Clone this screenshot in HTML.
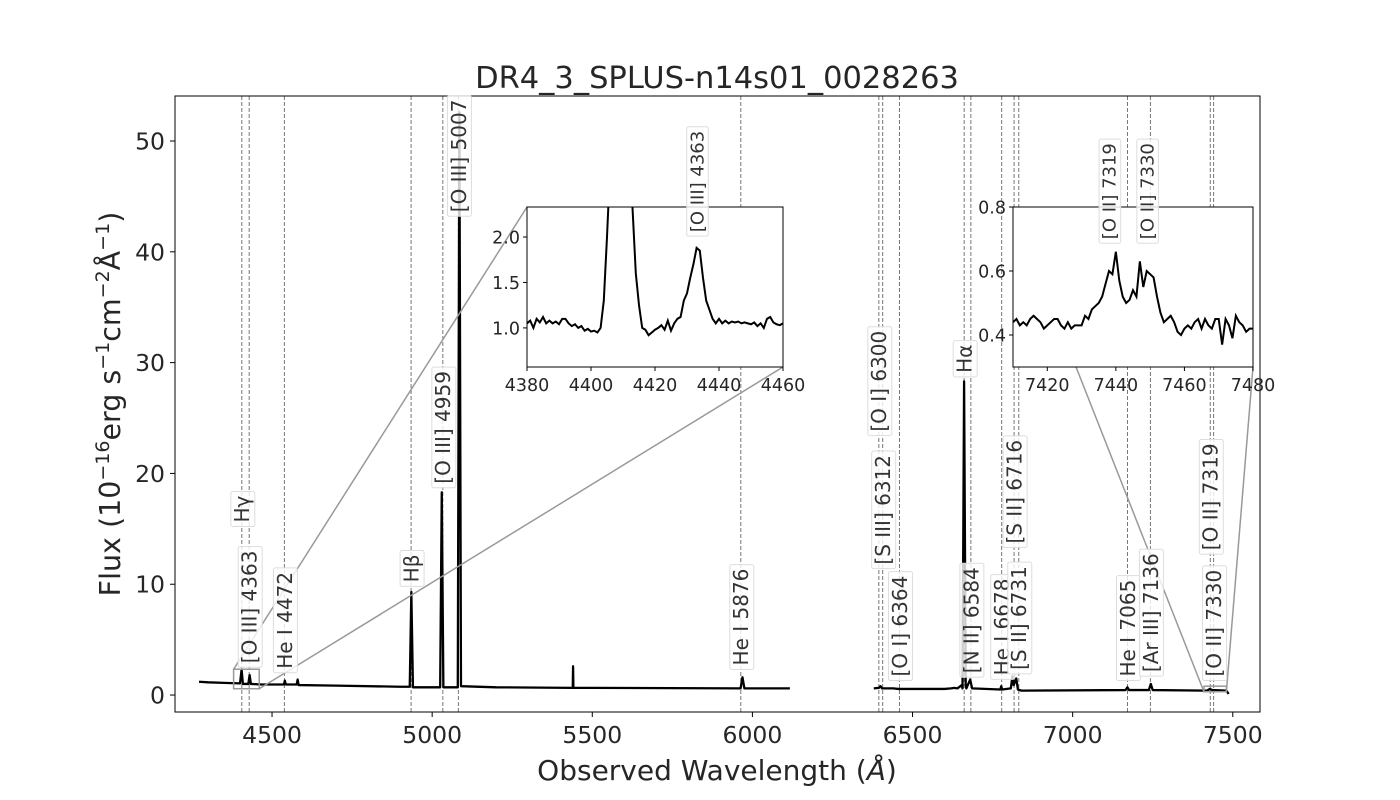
<!DOCTYPE html>
<html><head><meta charset="utf-8">
<style>
html,body{margin:0;padding:0;background:#fff;}
svg{display:block;font-family:"DejaVu Sans","Liberation Sans",sans-serif;}
</style></head>
<body>
<svg id="chart" width="1400" height="800" viewBox="0 0 1400 800" xmlns="http://www.w3.org/2000/svg">
<rect width="1400" height="800" fill="#fff"/>
<text x="717" y="88" font-size="30.5" text-anchor="middle" fill="#262626">DR4_3_SPLUS-n14s01_0028263</text>
<text x="717" y="780" font-size="28" text-anchor="middle" fill="#262626">Observed Wavelength (<tspan font-style="italic">Å</tspan>)</text>
<text transform="translate(120,404) rotate(-90)" font-size="28.5" text-anchor="middle" fill="#262626">Flux (10<tspan dy="-11" font-size="19">−16</tspan><tspan dy="11">erg s</tspan><tspan dy="-11" font-size="19">−1</tspan><tspan dy="11">cm</tspan><tspan dy="-11" font-size="19">−2</tspan><tspan dy="11">Å</tspan><tspan dy="-11" font-size="19">−1</tspan><tspan dy="11">)</tspan></text>
<g id="main"></g>
<g id="inset1"></g>
<g id="inset2"></g>
<g id="labels"></g>
</svg>
<script>
// ---- data ----
const xTicks = [4500,5000,5500,6000,6500,7000,7500];
const yTicks = [0,10,20,30,40,50];
const redshiftFactor = 1.0150;
const lineNames = ["Hγ","[O III] 4363","He I 4472","Hβ","[O III] 4959","[O III] 5007","He I 5876","[O I] 6300","[S III] 6312","[O I] 6364","Hα","[N II] 6584","He I 6678","[S II] 6716","[S II] 6731","He I 7065","[Ar III] 7136","[O II] 7319","[O II] 7330"];
const lineRest = [4340.5,4363.2,4471.5,4861.3,4958.9,5006.8,5875.6,6300.3,6312.1,6363.8,6562.8,6583.4,6678.2,6716.4,6730.8,7065.3,7135.8,7319.9,7330.2];
const labelY = [15.3,2.6,2.1,9.9,18.8,43.3,2.4,23.5,11.5,1.4,28.8,1.7,1.5,13.4,2.0,1.4,1.8,12.8,1.4];
const seg1Wave = [4272,4300,4350,4400,4405,4409,4426,4430,4434,4470,4537,4540,4543,4577,4580,4583,4700,4900,4930,4935,4940,5025,5030,5035,5080,5085,5090,5200,5439,5440,5441,5500,5963,5969,5975,6117];
const seg1Flux = [1.2,1.15,1.1,1.05,2.3,1.0,1.0,1.8,1.0,0.95,0.95,1.3,0.95,0.95,1.4,0.9,0.85,0.75,0.75,9.3,0.7,0.7,18.3,0.7,0.7,52.6,0.8,0.7,0.65,2.6,0.65,0.65,0.6,1.6,0.6,0.6];
const seg2Wave = [6379,6395,6400,6405,6440,6455,6600,6620,6630,6640,6654,6656,6661,6666,6668,6680,6686,6774,6777,6780,6807,6812,6816,6824,6829,6840,7165,7171,7176,7238,7244,7250,7420,7428,7436,7480,7487];
const seg2Flux = [0.6,0.65,0.8,0.6,0.6,0.55,0.55,0.6,0.65,0.6,0.9,0.6,28.3,1.0,0.6,1.4,0.6,0.5,0.8,0.5,0.6,1.7,0.9,1.5,0.5,0.4,0.45,0.7,0.45,0.45,1.0,0.45,0.4,0.55,0.45,0.4,0.1];
const in1XTicks = [4380,4400,4420,4440,4460];
const in1YTicks = [1.0,1.5,2.0];
const in1Wave = [4380,4381,4382,4383,4384,4385,4386,4387,4388,4389,4390,4391,4392,4393,4394,4395,4396,4397,4398,4399,4400,4401,4402,4403,4404,4405,4406,4409.5,4412,4413,4414,4415,4416,4417,4418,4419,4420,4421,4422,4423,4424,4425,4426,4427,4428,4429,4430,4431,4432,4433,4434,4435,4436,4437,4438,4439,4440,4441,4442,4443,4444,4445,4446,4447,4448,4449,4450,4451,4452,4453,4454,4455,4456,4457,4458,4459,4460];
const in1Flux = [1.05,1.08,1.0,1.1,1.06,1.12,1.05,1.08,1.05,1.07,1.04,1.1,1.1,1.05,1.02,1.04,1.0,1.02,0.97,0.99,0.96,0.97,0.95,1.0,1.3,2.0,2.8,5.0,3.0,2.3,1.6,1.25,1.0,0.98,0.92,0.95,0.98,1.0,1.03,0.98,1.08,0.97,1.05,1.1,1.12,1.3,1.38,1.55,1.7,1.88,1.85,1.55,1.3,1.2,1.1,1.05,1.1,1.05,1.08,1.05,1.07,1.06,1.07,1.05,1.06,1.05,1.04,1.06,1.02,1.05,1.0,1.1,1.12,1.06,1.04,1.03,1.05];
const in2XTicks = [7420,7440,7460,7480];
const in2YTicks = [0.4,0.6,0.8];
const in2Wave = [7410,7411,7412,7413,7414,7415,7416,7417,7418,7419,7420,7421,7422,7423,7424,7425,7426,7427,7428,7429,7430,7431,7432,7433,7434,7435,7436,7437,7438,7439,7440,7441,7442,7443,7444,7445,7446,7447,7448,7449,7450,7451,7452,7453,7454,7455,7456,7457,7458,7459,7460,7461,7462,7463,7464,7465,7466,7467,7468,7469,7470,7471,7472,7473,7474,7475,7476,7477,7478,7479,7480];
const in2Flux = [0.44,0.45,0.43,0.44,0.43,0.45,0.46,0.45,0.44,0.42,0.43,0.44,0.45,0.45,0.43,0.42,0.44,0.42,0.43,0.43,0.43,0.46,0.45,0.48,0.49,0.5,0.52,0.56,0.6,0.59,0.66,0.57,0.52,0.5,0.51,0.54,0.52,0.63,0.55,0.6,0.59,0.58,0.52,0.47,0.44,0.45,0.46,0.44,0.41,0.4,0.42,0.43,0.42,0.44,0.45,0.42,0.45,0.43,0.42,0.45,0.45,0.37,0.45,0.43,0.39,0.46,0.44,0.43,0.41,0.42,0.42];
const in1Labels = ["[O III] 4363"]; const in1LabelX=[4433]; const in1LabelY=[2.02];
const in2Labels = ["[O II] 7319","[O II] 7330"]; const in2LabelX=[7438,7449]; const in2LabelY=[0.69,0.69];

// ---- layout ----
const NS="http://www.w3.org/2000/svg";
function mk(tag,attrs,parent){const e=document.createElementNS(NS,tag);for(const k in attrs)e.setAttribute(k,attrs[k]);parent.appendChild(e);return e;}
const M={l:175,r:1260,t:96,b:712,x0:4197,x1:7585,y0:-1.53,y1:54.06};
const sx=v=>M.l+(v-M.x0)/(M.x1-M.x0)*(M.r-M.l);
const sy=v=>M.b-(v-M.y0)/(M.y1-M.y0)*(M.b-M.t);
const main=document.getElementById('main');
const labelsG=document.getElementById('labels');
const TC="#262626";

lineRest.forEach((w,i)=>{
  const x=sx(w*redshiftFactor);
  const l=mk('line',{x1:x,x2:x,y1:M.t,y2:M.b,stroke:'#777','stroke-width':1,'stroke-dasharray':'4,2'},main);
  
  
});
function pathOf(ws,fs,fx,fy){return ws.map((w,i)=>(i?'L':'M')+fx(w).toFixed(2)+','+fy(fs[i]).toFixed(2)).join('');}
const s1=mk('path',{d:pathOf(seg1Wave,seg1Flux,sx,sy),fill:'none',stroke:'#000','stroke-width':2.3,'stroke-linejoin':'round'},main);


const s2=mk('path',{d:pathOf(seg2Wave,seg2Flux,sx,sy),fill:'none',stroke:'#000','stroke-width':2.3,'stroke-linejoin':'round'},main);


const frame=mk('rect',{x:M.l,y:M.t,width:M.r-M.l,height:M.b-M.t,fill:'none',stroke:'#000','stroke-width':1},main);


xTicks.forEach(v=>{const x=sx(v);mk('line',{x1:x,x2:x,y1:M.b,y2:M.b+5,stroke:'#000'},main);
  const t=mk('text',{x:x,y:M.b+31,'font-size':23.5,'text-anchor':'middle',fill:TC},main);t.textContent=v;
  
  });
yTicks.forEach(v=>{const y=sy(v);mk('line',{x1:M.l-5,x2:M.l,y1:y,y2:y,stroke:'#000'},main);
  const t=mk('text',{x:M.l-10,y:y+8.5,'font-size':23.5,'text-anchor':'end',fill:TC},main);t.textContent=v;
  
  });

function label(g,txt,x,yb,fs,name){
  const grp=mk('g',{},g);
  
  
  const t=mk('text',{transform:`translate(${x+fs*0.37},${yb-3}) rotate(-90)`,'font-size':fs,fill:'#333'},grp);
  t.textContent=txt;
  const bb=t.getBBox(); const w=bb.width;
  const r=mk('rect',{x:x-fs*0.55,y:yb-w-7,width:fs*1.2,height:w+8,fill:'#fff','fill-opacity':0.8,stroke:'#ddd','stroke-width':1,rx:2},grp);
  grp.insertBefore(r,t);
}

function inset(gid,X0,X1,Y0,Y1,box,xt,yt,ws,fs,labs,lx,ly){
  const g=document.getElementById(gid);
  const fx=v=>box.l+(v-X0)/(X1-X0)*(box.r-box.l);
  const fy=v=>box.b-(v-Y0)/(Y1-Y0)*(box.b-box.t);
  const rx0=sx(X0),rx1=sx(X1),ry0=sy(Y1),ry1=sy(Y0);
  mk('rect',{x:rx0,y:ry0,width:rx1-rx0,height:ry1-ry0,fill:'none',stroke:'#999','stroke-width':1.5},g);
  mk('rect',{x:box.l,y:box.t,width:box.r-box.l,height:box.b-box.t,fill:'#fff'},g);
  const cp=mk('clipPath',{id:gid+'c'},g);mk('rect',{x:box.l,y:box.t,width:box.r-box.l,height:box.b-box.t},cp);
  const p=mk('path',{d:pathOf(ws,fs,fx,fy),fill:'none',stroke:'#000','stroke-width':2,'clip-path':`url(#${gid}c)`},g);
  
  
  mk('rect',{x:box.l,y:box.t,width:box.r-box.l,height:box.b-box.t,fill:'none',stroke:'#000'},g);
  xt.forEach(v=>{const x=fx(v);mk('line',{x1:x,x2:x,y1:box.b,y2:box.b+4,stroke:'#000'},g);
    const t=mk('text',{x:x,y:box.b+24,'font-size':17.5,'text-anchor':'middle',fill:TC},g);t.textContent=v;
    
    });
  yt.forEach(v=>{const y=fy(v);mk('line',{x1:box.l-4,x2:box.l,y1:y,y2:y,stroke:'#000'},g);
    const t=mk('text',{x:box.l-7,y:y+6.5,'font-size':17.5,'text-anchor':'end',fill:TC},g);t.textContent=v.toFixed(1);
    
    });
  labs.forEach((s,i)=>label(labelsG,s,fx(lx[i]),fy(ly[i]),18,'inset-label-'+i));
  return {rx0,rx1,ry0,ry1};
}
const r1=inset('inset1',4380,4460,0.57,2.33,{l:527,r:783,t:207,b:367},in1XTicks,in1YTicks,in1Wave,in1Flux,in1Labels,in1LabelX,in1LabelY);
const r2=inset('inset2',7410,7480,0.3,0.8,{l:1013,r:1253,t:207,b:367},in2XTicks,in2YTicks,in2Wave,in2Flux,in2Labels,in2LabelX,in2LabelY);
[[r1.rx0,r1.ry0,527,207],[r1.rx1,r1.ry1,783,367],[r2.rx0,r2.ry1,1013,207],[r2.rx1,r2.ry1,1253,367]].forEach(c=>{
  const l=mk('line',{x1:c[0],y1:c[1],x2:c[2],y2:c[3],stroke:'#999','stroke-width':1.5},main);
  
  
});
lineNames.forEach((n,i)=>label(labelsG,n,sx(lineRest[i]*redshiftFactor),sy(labelY[i]),20,'line-label-'+i));
</script>
</body></html>
